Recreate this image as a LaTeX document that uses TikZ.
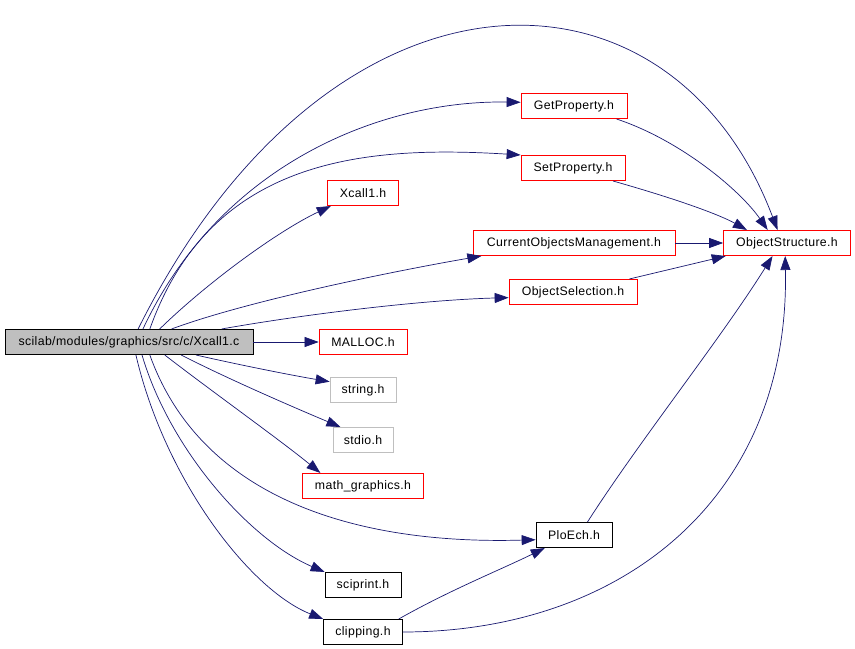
\documentclass[tikz,border=0pt]{standalone}
\usepackage{fontspec}
\setmainfont{Liberation Sans}[LetterSpace=3]
\usetikzlibrary{arrows.meta}
\definecolor{navy}{RGB}{25,25,112}
\tikzstyle{file} = [rectangle, minimum height=7.6mm, inner sep=0pt, text centered, draw=black, fill=white, line width=0.6pt, font=\fontsize{10.5}{12}\selectfont]
\tikzstyle{redfile} = [file, draw=red]
\tikzstyle{gonefile} = [file, draw=black!25]
\tikzstyle{mainfile} = [file, fill=black!25]
\tikzstyle{arrow} = [draw=navy, line width=0.6pt, -{Triangle[length=4.2mm, width=3mm]}]

\begin{document}
\begin{tikzpicture}[x=0.03cm, y=-0.03cm]
    \useasboundingbox (0,0) rectangle (855,649);
            \node (xcallc)    [mainfile, minimum width=7.44cm] at (129,342) {scilab/modules/graphics/src/c/Xcall1.c};
            \node (getprop)   [redfile, minimum width=3.18cm]  at (574,106) {GetProperty.h};
            \node (setprop)   [redfile, minimum width=3.12cm]  at (573,168) {SetProperty.h};
            \node (xcallh)    [redfile, minimum width=2.13cm]  at (363,193) {Xcall1.h};
            \node (curobj)    [redfile, minimum width=6.06cm]  at (574,243) {CurrentObjectsManagement.h};
            \node (objstruct) [redfile, minimum width=3.81cm]  at (787,243) {ObjectStructure.h};
            \node (objsel)    [redfile, minimum width=3.84cm]  at (573,292) {ObjectSelection.h};
            \node (malloc)    [redfile, minimum width=2.64cm]  at (363,342) {MALLOC.h};
            \node (stringh)   [gonefile, minimum width=1.98cm] at (363,390) {string.h};
            \node (stdioh)    [gonefile, minimum width=1.80cm] at (363,440) {stdio.h};
            \node (mathg)     [redfile, minimum width=3.63cm]  at (363,486) {math\_graphics.h};
            \node (ploech)    [file, minimum width=2.28cm]     at (574,535) {PloEch.h};
            \node (sciprint)  [file, minimum width=2.28cm]     at (363,585) {sciprint.h};
            \node (clipping)  [file, minimum width=2.37cm]     at (363,632) {clipping.h};

            \draw [arrow] (xcallc.55)   .. controls (330,-55) and (670,-55) .. (objstruct.126);
            \draw [arrow] (xcallc.43)   .. controls (220,165) and (380,100) .. (getprop.176);
            \draw [arrow] (xcallc.32)   .. controls (210,160) and (360,145) .. (setprop.north west);
            \draw [arrow] (xcallc.23)   .. controls (210,280) and (280,230) .. (xcallh.202);
            \draw [arrow] (xcallc.17.6) .. controls (250,300) and (400,270) .. (curobj.188.5);
            \draw [arrow] (xcallc.8.6)  .. controls (300,315) and (420,300) .. (objsel.185);
            \draw [arrow] (xcallc)      -- (malloc);
            \draw [arrow] (xcallc.-11)  .. controls (240,365) and (290,375) .. (stringh.166);
            \draw [arrow] (xcallc.-14)  .. controls (230,380) and (300,410) .. (stdioh.150);
            \draw [arrow] (xcallc.-20)  .. controls (210,390) and (280,440) .. (mathg.163);
            \draw [arrow] (xcallc.-32)  .. controls (200,495) and (350,545) .. (ploech.187.5);
            \draw [arrow] (xcallc.-45)  .. controls (170,450) and (250,540) .. (sciprint.north west);
            \draw [arrow] (xcallc.-62)  .. controls (165,480) and (250,590) .. (clipping.north west);

            \draw [arrow] (getprop.343.5) .. controls (680,140) and (740,190) .. (objstruct.146.7);
            \draw [arrow] (setprop.342)   .. controls (680,200) and (720,215) .. (objstruct.162.6);
            \draw [arrow] (curobj)        -- (objstruct);
            \draw [arrow] (objsel.13)     -- (objstruct.192);
            \draw [arrow] (ploech.44)     .. controls (640,440) and (720,340) .. (objstruct.222);
            \draw [arrow] (clipping)      .. controls (620,632) and (790,500) .. (objstruct.262);
            \draw [arrow] (clipping.20)   .. controls (450,590) and (500,570) .. (ploech.204);
        \end{tikzpicture}
\end{document}
